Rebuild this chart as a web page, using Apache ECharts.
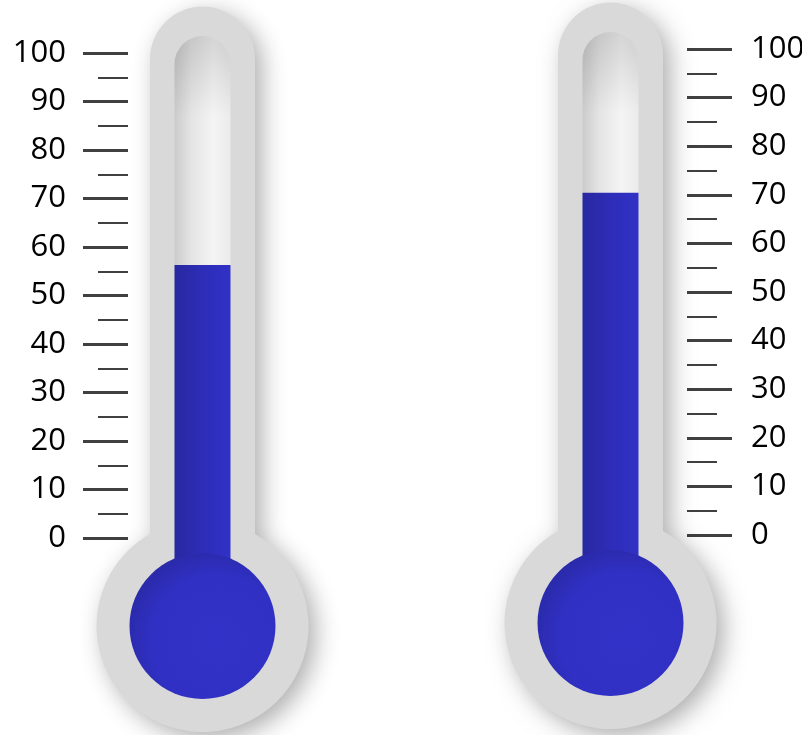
<!DOCTYPE html>
<html>
<head>
<meta charset="utf-8">
<script src="https://cdn.jsdelivr.net/npm/echarts@6/dist/echarts.min.js"></script>
<style>
  html, body { margin: 0; padding: 0; background: #ffffff; }
  #chart { width: 802px; height: 735px; }
</style>
</head>
<body>
<div id="chart"></div>
<script>
// Thermometer readings, one per gauge (left, right)
const readings = [56.3, 70.4];
// Scale shared by both gauges
const scaleMin = 0;
const scaleMax = 100;
const scaleStep = 10;

const chart = echarts.init(document.getElementById('chart'), null, { renderer: 'canvas' });

// Draws glass body, bore, mercury column and bulb around the axis scale
function thermometer(params, api) {
  const value = api.value(1);
  const base = api.coord([0, scaleMin]);
  const top = api.coord([0, scaleMax]);
  const level = api.coord([0, value]);
  const cx = base[0];
  const outerHalf = 52.5;
  const innerHalf = 28;
  const outerTop = top[1] - 46.5;
  const innerTop = top[1] - 17;
  const cy = base[1] + 88;
  const R = 106;
  const r = 73;
  const join = cy - Math.sqrt(R * R - outerHalf * outerHalf);

  const bodyPath =
    'M' + (cx - outerHalf) + ',' + join +
    ' L' + (cx - outerHalf) + ',' + (outerTop + outerHalf) +
    ' A' + outerHalf + ',' + outerHalf + ' 0 0 1 ' + (cx + outerHalf) + ',' + (outerTop + outerHalf) +
    ' L' + (cx + outerHalf) + ',' + join +
    ' A' + R + ',' + R + ' 0 1 1 ' + (cx - outerHalf) + ',' + join + ' Z';

  const borePath =
    'M' + (cx - innerHalf) + ',' + cy +
    ' L' + (cx - innerHalf) + ',' + (innerTop + innerHalf) +
    ' A' + innerHalf + ',' + innerHalf + ' 0 0 1 ' + (cx + innerHalf) + ',' + (innerTop + innerHalf) +
    ' L' + (cx + innerHalf) + ',' + cy + ' Z';

  return {
    type: 'group',
    children: [
      {
        type: 'path',
        shape: { pathData: bodyPath },
        style: {
          fill: '#d9d9d9',
          shadowBlur: 24,
          shadowColor: 'rgba(0,0,0,0.32)',
          shadowOffsetX: 7,
          shadowOffsetY: 7
        }
      },
      {
        type: 'path',
        shape: { pathData: borePath },
        style: {
          fill: new echarts.graphic.LinearGradient(0, 0, 1, 0, [
            { offset: 0, color: '#cbcbcb' },
            { offset: 0.3, color: '#e4e4e4' },
            { offset: 0.7, color: '#f4f4f4' },
            { offset: 1, color: '#ebebeb' }
          ])
        }
      },
      {
        type: 'path',
        shape: { pathData: borePath },
        style: {
          fill: new echarts.graphic.LinearGradient(0, innerTop, 0, innerTop + 80, [
            { offset: 0, color: 'rgba(0,0,0,0.13)' },
            { offset: 1, color: 'rgba(0,0,0,0)' }
          ], true)
        }
      },
      {
        type: 'rect',
        shape: { x: cx - innerHalf, y: level[1], width: innerHalf * 2, height: cy - level[1] },
        style: {
          fill: new echarts.graphic.LinearGradient(0, 0, 1, 0, [
            { offset: 0, color: '#2828a0' },
            { offset: 0.5, color: '#2d2db8' },
            { offset: 1, color: '#3131c6' }
          ])
        }
      },
      {
        type: 'circle',
        shape: { cx: cx, cy: cy, r: r },
        style: {
          fill: new echarts.graphic.RadialGradient(0.6, 0.6, 0.75, [
            { offset: 0, color: '#3232c8' },
            { offset: 0.6, color: '#3030c4' },
            { offset: 1, color: '#26269a' }
          ])
        }
      }
    ]
  };
}

function scaleAxis(gridIndex, position, margin) {
  return {
    gridIndex: gridIndex,
    type: 'value',
    position: position,
    min: scaleMin,
    max: scaleMax,
    interval: scaleStep,
    axisLine: { show: true, onZero: false, lineStyle: { color: 'rgba(0,0,0,0)', width: 1 } },
    splitLine: { show: false },
    minorSplitLine: { show: false },
    axisTick: { show: true, inside: false, length: 45, lineStyle: { color: '#404040', width: 3 } },
    minorTick: { show: true, splitNumber: 2, length: 30, lineStyle: { color: '#404040', width: 2 } },
    axisLabel: {
      margin: margin,
      fontSize: 31,
      color: '#000000',
      fontFamily: 'Open Sans',
      showMinLabel: true,
      showMaxLabel: true,
      hideOverlap: false
    }
  };
}

chart.setOption({
  animation: false,
  grid: [
    { left: 128, top: 53, width: 149, height: 485, containLabel: false, outerBoundsMode: 'none' },
    { left: 534, top: 49, width: 153, height: 486, containLabel: false, outerBoundsMode: 'none' }
  ],
  xAxis: [
    { gridIndex: 0, type: 'value', min: -1, max: 1, show: false },
    { gridIndex: 1, type: 'value', min: -1, max: 1, show: false }
  ],
  yAxis: [
    scaleAxis(0, 'left', 62),
    scaleAxis(1, 'right', 64)
  ],
  series: readings.map(function (v, i) {
    return {
      type: 'custom',
      xAxisIndex: i,
      yAxisIndex: i,
      clip: false,
      renderItem: thermometer,
      data: [[0, v]],
      z: 1
    };
  })
});
</script>
</body>
</html>
